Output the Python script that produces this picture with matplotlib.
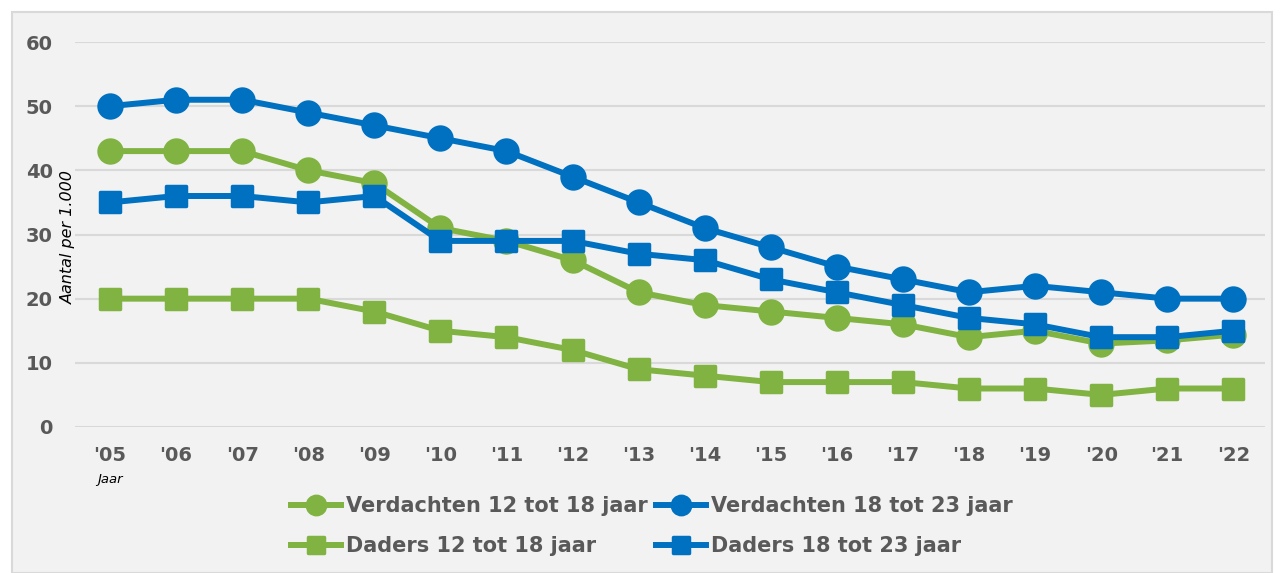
import matplotlib.pyplot as plt
from matplotlib.markers import MarkerStyle
from matplotlib.patches import Rectangle

years = ["'05", "'06", "'07", "'08", "'09", "'10", "'11", "'12", "'13",
         "'14", "'15", "'16", "'17", "'18", "'19", "'20", "'21", "'22"]

verdachten_12_18 = [43, 43, 43, 40, 38, 31, 29, 26, 21, 19, 18, 17, 16, 14, 15, 13, 13.5, 14.4]
verdachten_18_23 = [50, 51, 51, 49, 47, 45, 43, 39, 35, 31, 28, 25, 23, 21, 22, 21, 20, 20]
daders_12_18 = [20, 20, 20, 20, 18, 15, 14, 12, 9, 8, 7, 7, 7, 6, 6, 5, 6, 6]
daders_18_23 = [35, 36, 36, 35, 36, 29, 29, 29, 27, 26, 23, 21, 19, 17, 16, 14, 14, 15]

yticks = [0, 10, 20, 30, 40, 50, 60]

GREEN = '#80b341'
BLUE = '#0070c0'
GRAY_TEXT = '#595959'
BG = '#f2f2f2'

fig = plt.figure(figsize=(12.82, 5.73), dpi=100)
fig.patch.set_facecolor('white')
fig.add_artist(Rectangle((12 / 1282, 0), 1260 / 1282, 561 / 573, transform=fig.transFigure,
                         facecolor=BG, edgecolor='#d9d9d9', linewidth=1.5, zorder=0))

ax = fig.add_axes([75 / 1282, (573 - 427) / 573, 1190 / 1282, 385 / 573])
ax.set_facecolor('none')

x = list(range(len(years)))
circle = MarkerStyle('o')
square = MarkerStyle('s', joinstyle='round')

series = [
    (verdachten_12_18, GREEN, circle, 'Verdachten 12 tot 18 jaar'),
    (verdachten_18_23, BLUE, circle, 'Verdachten 18 tot 23 jaar'),
    (daders_12_18, GREEN, square, 'Daders 12 tot 18 jaar'),
    (daders_18_23, BLUE, square, 'Daders 18 tot 23 jaar'),
]
handles = []
for vals, col, mk, lab in series:
    ms = 16.5 if mk is circle else 14.5
    h, = ax.plot(x, vals, color=col, lw=4.3, marker=mk, ms=ms, mfc=col, mec=col,
                 mew=2.5, label=lab, clip_on=False, solid_joinstyle='round')
    handles.append(h)

ax.set_xlim(-0.53, 17.48)
ax.set_ylim(0, 60)
ax.set_yticks(yticks)
ax.set_xticks(x)
ax.set_xticklabels(years)
ax.grid(axis='y', color='#d9d9d9', lw=1.5)
ax.set_axisbelow(True)
for s in ax.spines.values():
    s.set_visible(False)
ax.tick_params(length=0, labelsize=14, labelcolor=GRAY_TEXT)
ax.tick_params(axis='y', pad=16)
ax.tick_params(axis='x', pad=14)
for t in ax.get_xticklabels() + ax.get_yticklabels():
    t.set_fontweight('bold')

fig.text(68 / 1282, 1 - 237 / 573, 'Aantal per 1.000', rotation=90, style='italic',
         fontsize=11.5, ha='center', va='center', color='black')
fig.text(110 / 1282, 1 - 479 / 573, 'Jaar', style='italic', fontsize=9.5,
         ha='center', va='center', color='black')

order = [handles[0], handles[2], handles[1], handles[3]]
leg = fig.legend(order, [h.get_label() for h in order], ncol=2, loc='center',
                 bbox_to_anchor=(652 / 1282, 47 / 573), frameon=False,
                 handlelength=2.4, handletextpad=0.25, columnspacing=0.4,
                 labelspacing=0.95, markerscale=0.8,
                 prop={'weight': 'bold', 'size': 15})
for t in leg.get_texts():
    t.set_color(GRAY_TEXT)

fig.savefig('out.png', dpi=100)
